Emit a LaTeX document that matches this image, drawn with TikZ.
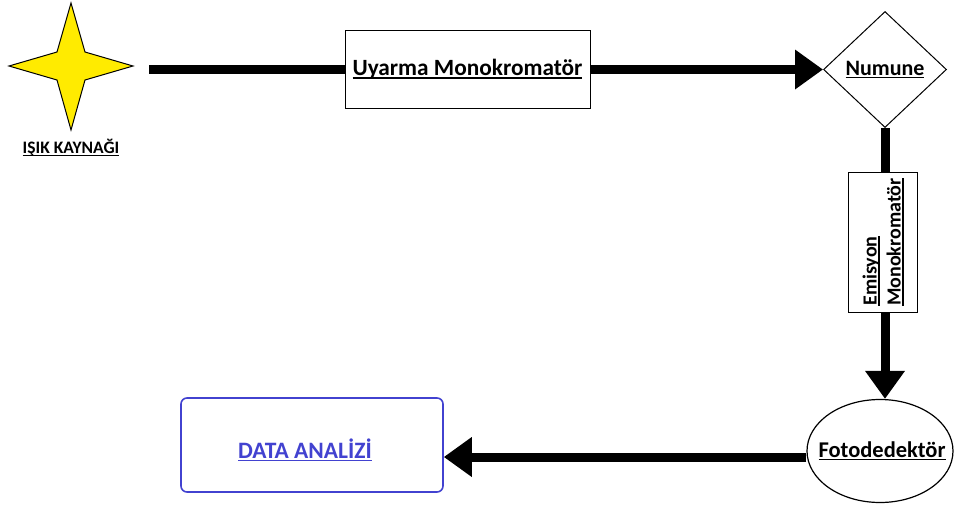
\documentclass[tikz,border=0pt]{standalone}
\usepackage{fontspec}
\setmainfont{Carlito}
\usetikzlibrary{arrows.meta,shapes.geometric}
\definecolor{dablue}{RGB}{66,66,208}
\definecolor{staryellow}{RGB}{255,235,0}
\newcommand{\myul}[2][3pt]{\setbox0\hbox{#2}\rlap{\rule[-#1]{\wd0}{1.6pt}}\box0}
\tikzset{
  flow/.style={line width=9pt},
  flowarrow/.style={line width=9pt,-{Triangle[length=28pt,width=38pt]}},
  boxnode/.style={draw,line width=1pt,inner sep=0pt},
  lbl/.style={font=\bfseries}
}
\begin{document}
\begin{tikzpicture}[x=1pt,y=-1pt]
\useasboundingbox (0,0) rectangle (956,506);
% star
\draw[fill=staryellow,line width=1pt,line join=miter]
  (71,3) -- (85,52) -- (133,66) -- (85,80) -- (71,130) -- (57,80) -- (9,66) -- (57,52) -- cycle;
\node[lbl,font=\bfseries\fontsize{17.5}{20}\selectfont] (lab) at (71,148) {\myul[2.5pt]{IŞIK KAYNAĞI}};
\coordinate (src) at (149,69.5);
% boxes
\node[boxnode,minimum width=245pt,minimum height=78pt,font=\bfseries\fontsize{23.3}{27}\selectfont] (uy) at (467.5,69.5) {\myul{Uyarma Monokromatör}};
\node[draw,diamond,line width=1pt,minimum width=123pt,minimum height=116pt,inner sep=0pt,font=\bfseries\fontsize{22}{26}\selectfont] (num) at (885,69.5) {\myul{Numune}};
\node[boxnode,rotate=90,minimum width=140pt,minimum height=69pt,align=left,font=\bfseries\fontsize{20}{24}\selectfont] (em) at (883,242) {\myul{Emisyon}\\\myul{Monokromatör}};
\node[draw,ellipse,line width=1.2pt,minimum width=146pt,minimum height=103pt,inner sep=0pt] (foto) at (880,451) {};
\node[font=\bfseries\fontsize{22.5}{26}\selectfont] (fototxt) at (882,451) {\myul{Fotodedektör}};
\node[draw=dablue,line width=1.6pt,rounded corners=6pt,minimum width=262pt,minimum height=94pt] (data) at (312,445) {};
\node[text=dablue,font=\bfseries\fontsize{23.5}{27}\selectfont] (datatxt) at (305,450) {\myul{DATA ANALİZİ}};
% connectors
\draw[flow] (src) -- (uy.west);
\draw[flowarrow] (uy.east) -- (num.west);
\draw[flow] (num.south) -- (num.south |- em.east);
\draw[flowarrow] (num.south |- em.west) -- (num.south |- foto.north);
\draw[flowarrow] (foto.west |- 0,457) -- (data.east |- 0,457);
\end{tikzpicture}
\end{document}
